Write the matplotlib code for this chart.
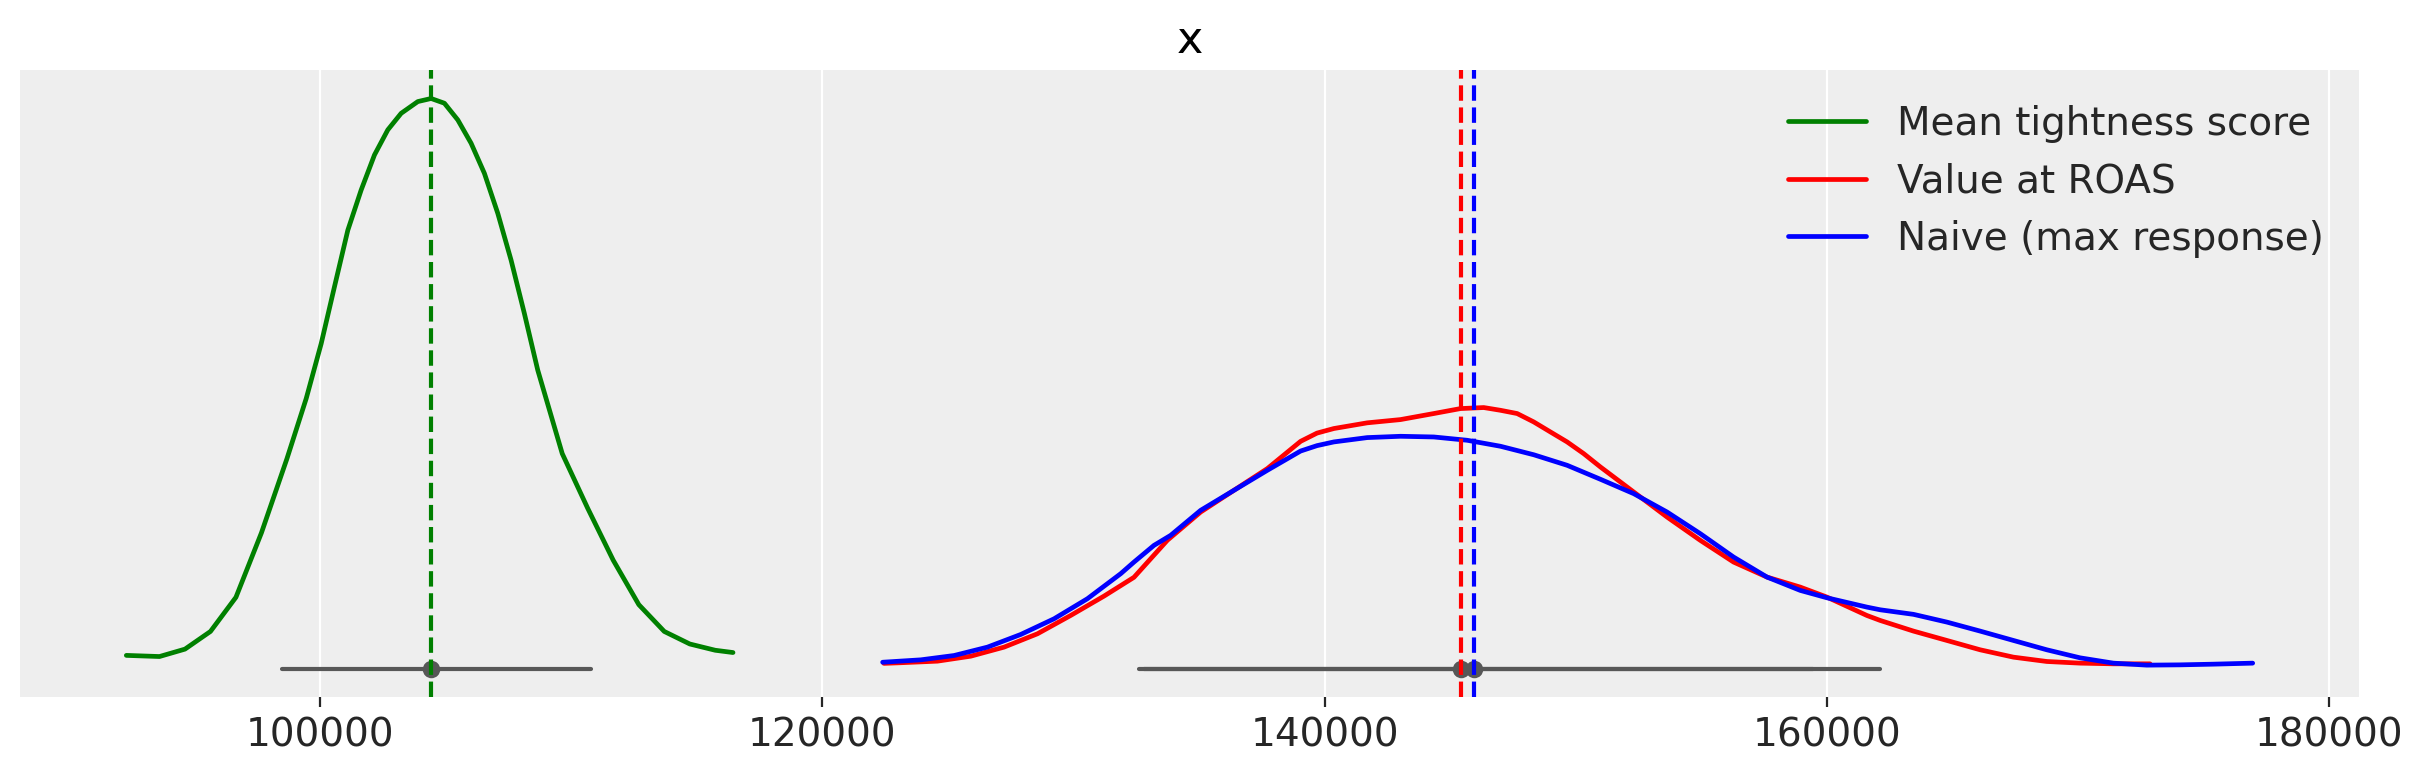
import numpy as np
import matplotlib.pyplot as plt

# KDE curves (x, relative density)
green_x = [92279, 93600, 94615, 95630, 96645, 97660, 98675, 99443, 100040, 100570,
           101101, 101632, 102162, 102693, 103224, 103888, 104418, 104947, 105481,
           106010, 106539, 107073, 107602, 108131, 108665, 109640, 110655, 111670,
           112690, 113703, 114720, 115733, 116441]
green_y = [0.023, 0.021, 0.034, 0.065, 0.125, 0.238, 0.368, 0.4736, 0.570, 0.670,
           0.769, 0.8395, 0.901, 0.945, 0.974, 0.9946, 1.000, 0.9917, 0.9624,
           0.9215, 0.8688, 0.7985, 0.7165, 0.623, 0.5234, 0.377, 0.281, 0.190,
           0.112, 0.065, 0.043, 0.032, 0.028]

red_x = [122450, 123060, 124585, 125910, 127236, 128565, 129890, 131216, 132410,
         133740, 135065, 136390, 137720, 139045, 139700, 140370, 141700, 143025,
         144350, 145413, 146340, 147005, 147670, 148330, 148995, 149660, 150320,
         150985, 152310, 153640, 154965, 156290, 157620, 158945, 160005, 161600,
         162129, 163455, 164785, 166110, 167435, 168765, 170090, 171415, 172875]
red_y = [0.009, 0.010, 0.0129, 0.0216, 0.0375, 0.0609, 0.0931, 0.127, 0.160,
         0.225, 0.2745, 0.3126, 0.3507, 0.3985, 0.413, 0.421, 0.431, 0.4367,
         0.4473, 0.456, 0.4578, 0.453, 0.4473, 0.4326, 0.415, 0.3975, 0.377,
         0.3536, 0.3097, 0.2657, 0.2248, 0.1867, 0.1604, 0.1428, 0.1253, 0.093,
         0.0843, 0.0656, 0.0492, 0.0328, 0.0199, 0.0123, 0.0094, 0.0082, 0.0082]

blue_x = [122400, 123920, 125247, 126575, 127900, 129227, 130555, 131880, 132410,
          133206, 133870, 135065, 136390, 137720, 139045, 139700, 140370, 141700,
          143025, 144350, 145680, 147005, 148330, 149660, 150985, 152310, 153640,
          154965, 156290, 157620, 158945, 160005, 161600, 162129, 163455, 164785,
          166110, 167435, 168765, 170090, 171415, 172745, 174070, 175395, 176963]
blue_y = [0.011, 0.0152, 0.0228, 0.0375, 0.0597, 0.0872, 0.1224, 0.1663, 0.1867,
          0.216, 0.2336, 0.2775, 0.3126, 0.3477, 0.3815, 0.391, 0.3975, 0.4051,
          0.4074, 0.4062, 0.4004, 0.3899, 0.3750, 0.3565, 0.332, 0.3068, 0.2745,
          0.2365, 0.1955, 0.1604, 0.137, 0.1241, 0.1077, 0.103, 0.095, 0.0814,
          0.0656, 0.0492, 0.0328, 0.0187, 0.0094, 0.0059, 0.0064, 0.0076, 0.0094]

labels = ["Mean tightness score", "Value at ROAS", "Naive (max response)"]
colors = ["green", "red", "blue"]
means = [104420, 145450, 145950]
hdi_low = [98488, 132800, 132600]
hdi_high = [110786, 159460, 162130]

gray = "#575757"

fig = plt.figure(figsize=(2423 / 200, 773 / 200), dpi=200)
ax = fig.add_axes([20 / 2423, 76 / 773, 2339 / 2423, 627 / 773])
ax.set_facecolor("#eeeeee")
for s in ax.spines.values():
    s.set_visible(False)

curves = [(green_x, green_y), (red_x, red_y), (blue_x, blue_y)]
for (cx, cy), c, lab in zip(curves, colors, labels):
    ax.plot(cx, cy, color=c, lw=1.7, label=lab, solid_capstyle="round",
            solid_joinstyle="round", zorder=2)

for lo, hi, m in zip(hdi_low, hdi_high, means):
    ax.plot([lo, hi], [0, 0], color=gray, lw=1.5, solid_capstyle="round", zorder=3)
for m in means:
    ax.plot(m, 0, "o", color=gray, ms=6.3, mew=0, zorder=4)
for m, c in zip(means, colors):
    ax.axvline(m, color=c, ls="--", lw=1.5, zorder=5)

ax.set_yticks([])
ax.set_xticks([100000, 120000, 140000, 160000, 180000])
ax.grid(axis="x", color="white", lw=0.8)
ax.set_axisbelow(True)
ax.tick_params(axis="x", labelsize=14, colors="#262626", length=3.5, width=0.8)
ax.set_title("x", fontsize=16, color="black")
ax.legend(loc="upper right", frameon=False, fontsize=14, labelcolor="#262626")

fig.savefig("out.png", dpi=200)
